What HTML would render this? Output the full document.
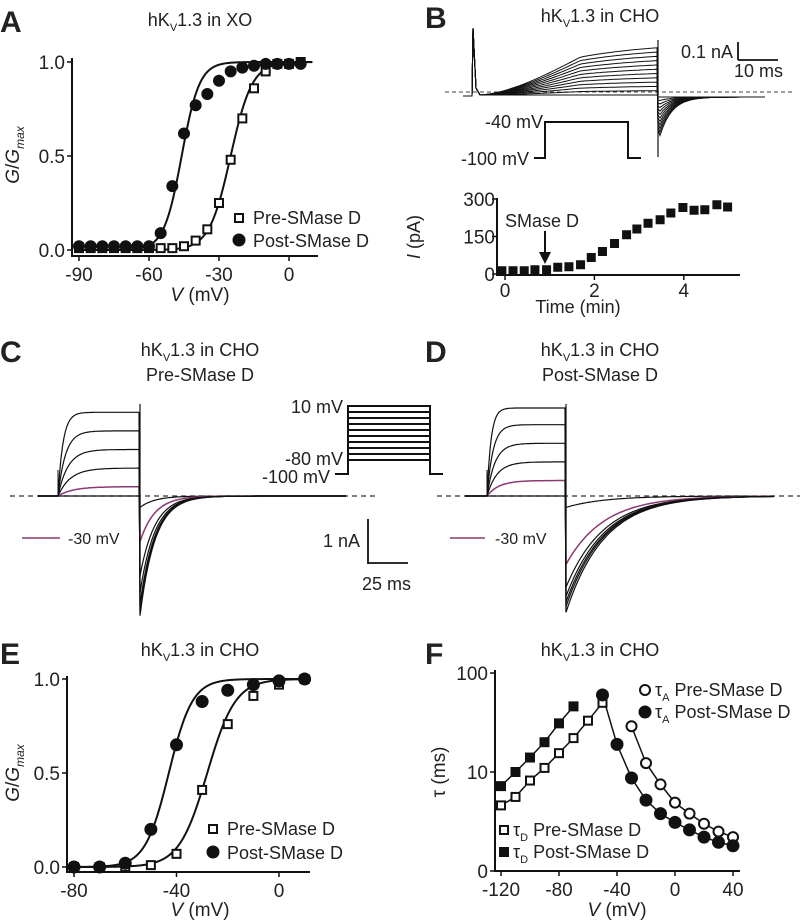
<!DOCTYPE html>
<html><head><meta charset="utf-8"><style>
html,body{margin:0;padding:0;background:#fff;}
svg{display:block;font-family:"Liberation Sans",sans-serif;}
.t{font-size:18px;fill:#222;}
.lbl{font-size:30px;font-weight:bold;fill:#222;}
</style></head><body>
<svg id="fig" width="800" height="920" viewBox="0 0 800 920">
<text class="lbl" x="0" y="32">A</text>
<text class="t" x="200" y="26" text-anchor="middle">hK<tspan font-size="11" dy="5">V</tspan><tspan dy="-5">1.3 in XO</tspan></text>
<text class="lbl" x="425" y="28">B</text>
<text class="t" x="600" y="22" text-anchor="middle">hK<tspan font-size="11" dy="5">V</tspan><tspan dy="-5">1.3 in CHO</tspan></text>
<text class="lbl" x="0" y="362">C</text>
<text class="t" x="200" y="356" text-anchor="middle">hK<tspan font-size="11" dy="5">V</tspan><tspan dy="-5">1.3 in CHO</tspan></text>
<text class="t" x="200" y="381" text-anchor="middle">Pre-SMase D</text>
<text class="lbl" x="425" y="362">D</text>
<text class="t" x="600" y="356" text-anchor="middle">hK<tspan font-size="11" dy="5">V</tspan><tspan dy="-5">1.3 in CHO</tspan></text>
<text class="t" x="600" y="381" text-anchor="middle">Post-SMase D</text>
<text class="lbl" x="0" y="664">E</text>
<text class="t" x="200" y="656" text-anchor="middle">hK<tspan font-size="11" dy="5">V</tspan><tspan dy="-5">1.3 in CHO</tspan></text>
<text class="lbl" x="425" y="664">F</text>
<text class="t" x="600" y="656" text-anchor="middle">hK<tspan font-size="11" dy="5">V</tspan><tspan dy="-5">1.3 in CHO</tspan></text>
<g id="g"></g>
</svg>
<script>
// ---------- Panel A data ----------
const aVolt = [-90,-85,-80,-75,-70,-65,-60,-55,-50,-45,-40,-35,-30,-25,-20,-15,-10,-5,0,5];
const aPost = [0.02,0.02,0.02,0.02,0.02,0.02,0.02,0.09,0.34,0.62,0.77,0.83,0.90,0.95,0.97,0.98,0.99,0.99,0.99,0.99];
const aPre  = [0.01,0.01,0.01,0.01,0.01,0.01,0.01,0.01,0.01,0.02,0.05,0.11,0.25,0.48,0.70,0.86,0.95,0.99,0.99,1.0];
const aXTicks = [-90,-60,-30,0];
const aYTicks = ["0.0","0.5","1.0"];
// ---------- Panel B data ----------
const bTime = [-0.07,0.18,0.43,0.67,0.93,1.18,1.43,1.69,1.93,2.18,2.45,2.72,2.95,3.2,3.47,3.71,3.98,4.23,4.47,4.74,4.98];
const bCurr = [13,13,13,17,17,27,29,37,66,90,122,157,180,203,217,244,266,255,257,277,268];
const bXTicks = [0,2,4];
const bYTicks = [0,150,300];
// ---------- Panel C/D traces ----------
const cPlateau = [0,0.15,0.45,0.75,1.05,1.35];
const cTail = [0.1,0.4,0.7,0.85,0.95,1.0,1.05];
const dPlateau = [0,0.25,0.55,0.85,1.15,1.42];
const dTail = [0.1,0.6,0.8,0.88,0.93,0.97,1.02];
// ---------- Panel E data ----------
const eVolt = [-80,-70,-60,-50,-40,-30,-20,-10,0,10];
const ePost = [0,0,0.02,0.2,0.65,0.88,0.94,0.97,0.99,1.0];
const ePre  = [0,0,0,0.01,0.07,0.41,0.76,0.91,0.97,1.0];
const eXTicks = [-80,-40,0];
// ---------- Panel F data ----------
const fDVolt = [-120,-110,-100,-90,-80,-70,-60,-50];
const fDPre  = [4.6,5.6,8.2,11,15.5,22,33,50];
const fDPostV= [-120,-110,-100,-90,-80,-70];
const fDPost = [7.2,10,14,20,31,46];
const fAPreV = [-30,-20,-10,0,10,20,30,40];
const fAPre  = [29,12.3,7.5,4.9,3.8,3.0,2.5,2.2];
const fAPostV= [-50,-40,-30,-20,-10,0,10,20,30,40];
const fAPost = [60,19,8.7,5.2,3.8,3.1,2.6,2.2,1.95,1.8];
const fXTicks = [-120,-80,-40,0,40];

const NS="http://www.w3.org/2000/svg";
const G=document.getElementById('g');
const TK=19, LG=18;
function el(tag,attrs,parent){const e=document.createElementNS(NS,tag);for(const k in attrs)e.setAttribute(k,attrs[k]);(parent||G).appendChild(e);return e;}
function txt(x,y,s,anchor,size,name,extra){const e=el('text',Object.assign({x:x,y:y,'text-anchor':anchor||'start','font-size':size||17,fill:'#222'},extra||{}));e.textContent=s;


return e;}
function line(x1,y1,x2,y2,w,name,extra){const e=el('line',Object.assign({x1:x1,y1:y1,x2:x2,y2:y2,stroke:'#111','stroke-width':w||2},extra||{}));


return e;}
function path(d,name,stroke,w,extra){const e=el('path',Object.assign({d:d,fill:'none',stroke:stroke||'#111','stroke-width':w||1.5},extra||{}));


return e;}
function sq(x,y,s,filled,name){const e=el('rect',{x:x-s/2,y:y-s/2,width:s,height:s,fill:filled?'#111':'#fff',stroke:'#111','stroke-width':2});


return e;}
function circ(x,y,r,filled,name){const e=el('circle',{cx:x,cy:y,r:r,fill:filled?'#111':'#fff',stroke:'#111','stroke-width':2});


return e;}
function boltz(v,vh,k){return 1/(1+Math.exp((vh-v)/k));}

// ===== Panel A =====
(function(){
 const X=v=>289+v*70/30, Y=g=>250-g*188;
 line(72,58,72,257,2,'a-y-axis'); line(71,256,318,256,2,'a-x-axis');
 aXTicks.forEach(v=>{line(X(v),256,X(v),261,1.5,'a-x-tick');txt(X(v),281,String(v),'middle',TK,'a-x-tick-label');});
 aYTicks.forEach(s=>{const y=Y(parseFloat(s));line(67,y,72,y,1.5,'a-y-tick');txt(65,y+7,s,'end',TK,'a-y-tick-label');});
 txt(200,301,'',"middle",TK,'a-x-title').innerHTML='<tspan font-style="italic">V</tspan> (mV)';
 const yt=txt(0,0,'','middle',TK,'a-y-title',{transform:'translate(19,155) rotate(-90)'});yt.innerHTML='<tspan font-style="italic">G</tspan>/<tspan font-style="italic">G</tspan><tspan font-size="12" dy="5" font-style="italic">max</tspan>';
 let d1='',d2='';for(let v=-90;v<=10;v+=0.5){d1+=(d1?'L':'M')+X(v)+','+Y(boltz(v,-46,3.8));d2+=(d2?'L':'M')+X(v)+','+Y(boltz(v,-25,4.6));}
 path(d1,'a-fit-post','#111',2);path(d2,'a-fit-pre','#111',2);
 aVolt.forEach((v,i)=>{sq(X(v),Y(aPre[i]),8,false,'a-pre-point');});
 aVolt.forEach((v,i)=>{circ(X(v),Y(aPost[i]),5,true,'a-post-point');});
 sq(239,218,8,false,'a-legend-pre-marker');txt(253,224,'Pre-SMase D','start',LG,'a-legend-pre');
 circ(239,240,5.5,true,'a-legend-post-marker');txt(253,247,'Post-SMase D','start',LG,'a-legend-post');
})();

// ===== Panel B =====
(function(){
 line(445,92,795,92,1,'b-zero-line',{'stroke-dasharray':'4,3',stroke:'#444'});
 for(let k=0;k<12;k++){const amp=k*4.3;let d='M463,96 L472,96 L473,28 L476,88 L480,95';
  for(let x=480;x<=658;x+=3){const t=(x-480)/178;const y=95-amp*(1-Math.exp(-t*2.2))/(1-Math.exp(-2.2))*Math.min(1,t*1.6+0.1);d+='L'+x+','+y.toFixed(1);}
  d+='L658,'+(97+k*3)+' ';
  for(let x=660;x<=765;x+=3){const y=97+(k*3.5)*Math.exp(-(x-660)/12);d+='L'+x+','+y.toFixed(1);}
  path(d,'b-current-trace','#111',1);}
 line(658,40,658,157,1.2,'b-tail-spike');
 line(738,42,738,60,1.8,'b-scale-vertical');line(738,60,778,60,1.8,'b-scale-horizontal');
 txt(733,58,'0.1 nA','end',LG,'b-scale-current');txt(783,77,'10 ms','end',LG,'b-scale-time');
 path('M534,158 L545,158 L545,122 L628,122 L628,158 L641,158','b-voltage-protocol','#111',2);
 txt(543,128,'-40 mV','end',LG,'b-protocol-high');txt(529,165,'-100 mV','end',LG,'b-protocol-low');
 const X=t=>505+t*44.7, Y=v=>274-v*75/300;
 line(497,198,497,276,2,'b-y-axis');line(496,275,740,275,2,'b-x-axis');
 bXTicks.forEach(t=>{line(X(t),275,X(t),280,1.5,'b-x-tick');txt(X(t),297,String(t),'middle',TK,'b-x-tick-label');});
 bYTicks.forEach(v=>{line(492,Y(v),497,Y(v),1.5,'b-y-tick');txt(495,Y(v)+7,String(v),'end',TK,'b-y-tick-label');});
 bTime.forEach((t,i)=>{sq(X(t),Y(bCurr[i]),7,true,'b-current-point');});
 txt(578,313,'Time (min)','middle',LG,'b-x-title');
 txt(0,0,'','middle',LG,'b-y-title',{transform:'translate(420,237) rotate(-90)'}).innerHTML='<tspan font-style="italic">I</tspan> (pA)';
 txt(505,227,'SMase D','start',LG,'b-smase-label');
 line(545,231,545,256,2,'b-arrow-shaft');
 const ah=el('path',{d:'M539,252 L551,252 L545,264 Z',fill:'#111'});
 
 
})();

// ===== Panels C & D traces =====
function traces(ox,stepX,tailX,endX,plats,tails,tailTau,actTau,prefix,dashFrom,dashTo){
 line(dashFrom,496,dashTo,496,1.2,prefix+'-zero-line',{'stroke-dasharray':'5,4',stroke:'#333'});
 const scale=62;
 plats.forEach((p,i)=>{
  const purple=(i===1);let d='M'+ox+',496 L'+stepX+',496';
  for(let x=stepX;x<=tailX;x+=1.5){const t=(x-stepX);const y=496-p*scale*(1-Math.exp(-t/(actTau*(1+ (5-i)*0.5))));d+='L'+x+','+y.toFixed(1);}
  const tp=tails[i]*(610-496);d+='L'+tailX+','+(496+tp).toFixed(1);
  for(let x=tailX;x<=endX;x+=2){const y=496+tp*Math.exp(-(x-tailX)/tailTau);d+='L'+x+','+y.toFixed(1);}
  path(d,prefix+'-trace',purple?'#8a3a72':'#111',purple?1.5:1.2);
 });
 for(let j=6;j<tails.length;j++){let d='M'+tailX+',496 L'+tailX+','+(496+tails[j]*114);for(let x=tailX;x<=endX;x+=2){d+='L'+x+','+(496+tails[j]*114*Math.exp(-(x-tailX)/tailTau)).toFixed(1);}path(d,prefix+'-trace','#111',1.2);}
 line(stepX,470,stepX,496,1,prefix+'-capacitive-spike');
 line(tailX,404,tailX,612,1.2,prefix+'-tail-edge');
}
traces(38,58,140,347,cPlateau,cTail,15,5,'c',10,378);
traces(465,487,566,775,dPlateau,dTail,38,4,'d',437,800);
(function(){
 let d='M335,474 L348,474 L348,406 L430,406 L430,474 L443,474';path(d,'c-voltage-protocol','#111',2);
 for(let k=1;k<10;k++){const y=406+k*6;line(348,y,430,y,2,'c-protocol-step');}
 txt(343,413,'10 mV','end',LG,'c-protocol-10');txt(343,465,'-80 mV','end',LG,'c-protocol-80');txt(330,483,'-100 mV','end',LG,'c-protocol-100');
 line(22,538,60,538,1.5,'c-legend-line',{stroke:'#8a3a72'});txt(68,544,'-30 mV','start',16,'c-legend-label');
 line(450,538,485,538,1.5,'d-legend-line',{stroke:'#8a3a72'});txt(495,544,'-30 mV','start',16,'d-legend-label');
 line(368,519,368,564,1.8,'c-scale-vertical');line(368,563,408,563,1.8,'c-scale-horizontal');
 txt(360,547,'1 nA','end',LG,'c-scale-current');txt(362,590,'25 ms','start',LG,'c-scale-time');
})();

// ===== Panel E =====
(function(){
 const X=v=>279+v*2.5625, Y=g=>867-g*188;
 line(67,676,67,873,2,'e-y-axis');line(66,872,310,872,2,'e-x-axis');
 eXTicks.forEach(v=>{line(X(v),872,X(v),877,1.5,'e-x-tick');txt(X(v),897,String(v),'middle',TK,'e-x-tick-label');});
 ["0.0","0.5","1.0"].forEach(s=>{const y=Y(parseFloat(s));line(62,y,67,y,1.5,'e-y-tick');txt(60,y+7,s,'end',TK,'e-y-tick-label');});
 txt(200,916,'','middle',TK,'e-x-title').innerHTML='<tspan font-style="italic">V</tspan> (mV)';
 txt(0,0,'','middle',TK,'e-y-title',{transform:'translate(19,773) rotate(-90)'}).innerHTML='<tspan font-style="italic">G</tspan>/<tspan font-style="italic">G</tspan><tspan font-size="12" dy="5" font-style="italic">max</tspan>';
 let d1='',d2='';for(let v=-80;v<=10;v+=0.5){d1+=(d1?'L':'M')+X(v)+','+Y(boltz(v,-43,4.6));d2+=(d2?'L':'M')+X(v)+','+Y(boltz(v,-28,5.5));}
 path(d1,'e-fit-post','#111',2);path(d2,'e-fit-pre','#111',2);
 eVolt.forEach((v,i)=>sq(X(v),Y(ePre[i]),8,false,'e-pre-point'));
 eVolt.forEach((v,i)=>circ(X(v),Y(ePost[i]),5.5,true,'e-post-point'));
 sq(213,829,8,false,'e-legend-pre-marker');txt(227,835,'Pre-SMase D','start',LG,'e-legend-pre');
 circ(213,852,5.5,true,'e-legend-post-marker');txt(227,859,'Post-SMase D','start',LG,'e-legend-post');
})();

// ===== Panel F =====
(function(){
 const X=v=>675+v*58/40, Y=t=>871-Math.log10(t)*99;
 line(495,670,495,872,2,'f-y-axis');line(494,871,740,871,2,'f-x-axis');
 fXTicks.forEach(v=>{line(X(v),871,X(v),876,1.5,'f-x-tick');txt(X(v),896,String(v),'middle',TK,'f-x-tick-label');});
 [[100,'100'],[10,'10'],[1,'0']].forEach(a=>{line(490,Y(a[0]),495,Y(a[0]),1.5,'f-y-tick');txt(488,Y(a[0])+7,a[1],'end',TK,'f-y-tick-label');});
 txt(617,916,'','middle',TK,'f-x-title').innerHTML='<tspan font-style="italic">V</tspan> (mV)';
 txt(0,0,'τ (ms)','middle',TK,'f-y-title',{transform:'translate(445,772) rotate(-90)'});
 const pl=(vs,ts,name)=>{let d='';vs.forEach((v,i)=>{d+=(i?'L':'M')+X(v)+','+Y(ts[i]);});path(d,name,'#111',1.5);};
 pl(fDVolt,fDPre,'f-taud-pre-line');pl(fDPostV,fDPost,'f-taud-post-line');pl(fAPreV,fAPre,'f-taua-pre-line');pl(fAPostV,fAPost,'f-taua-post-line');
 fDVolt.forEach((v,i)=>sq(X(v),Y(fDPre[i]),8,false,'f-taud-pre-point'));
 fDPostV.forEach((v,i)=>sq(X(v),Y(fDPost[i]),8,true,'f-taud-post-point'));
 fAPreV.forEach((v,i)=>circ(X(v),Y(fAPre[i]),5,false,'f-taua-pre-point'));
 fAPostV.forEach((v,i)=>circ(X(v),Y(fAPost[i]),5.5,true,'f-taua-post-point'));
 circ(645,690,5,false,'f-legend-taua-pre-marker');txt(655,696,'','start',LG,'f-legend-taua-pre').innerHTML='τ<tspan font-size="11" dy="5">A</tspan><tspan dy="-5"> Pre-SMase D</tspan>';
 circ(645,712,5.5,true,'f-legend-taua-post-marker');txt(655,718,'','start',LG,'f-legend-taua-post').innerHTML='τ<tspan font-size="11" dy="5">A</tspan><tspan dy="-5"> Post-SMase D</tspan>';
 sq(504,830,8,false,'f-legend-taud-pre-marker');txt(513,836,'','start',LG,'f-legend-taud-pre').innerHTML='τ<tspan font-size="11" dy="5">D</tspan><tspan dy="-5"> Pre-SMase D</tspan>';
 sq(504,852,8,true,'f-legend-taud-post-marker');txt(513,858,'','start',LG,'f-legend-taud-post').innerHTML='τ<tspan font-size="11" dy="5">D</tspan><tspan dy="-5"> Post-SMase D</tspan>';
})();
</script>
</body></html>
